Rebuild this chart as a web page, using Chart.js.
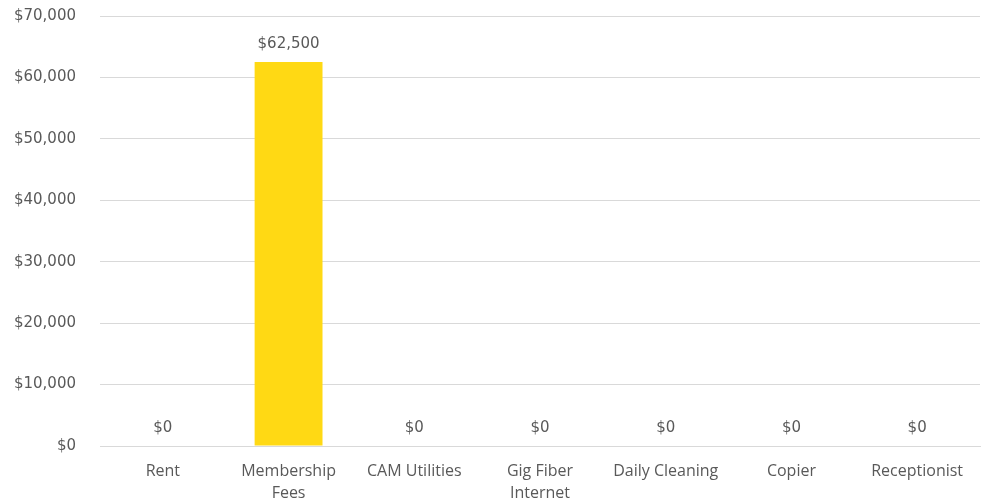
<!DOCTYPE html>
<html>
<head>
<meta charset="utf-8">
<script src="https://cdn.jsdelivr.net/npm/chart.js@4"></script>
<style>
  html, body { margin: 0; padding: 0; background: #fff; }
  .chart-wrapper { width: 983px; height: 502px; }
</style>
</head>
<body>
<div class="chart-wrapper"><canvas id="costChart"></canvas></div>
<script>
// 数据
const categories = ['Rent', ['Membership', 'Fees'], 'CAM Utilities', ['Gig Fiber', 'Internet'], 'Daily Cleaning', 'Copier', 'Receptionist'];
const amounts = [0, 62500, 0, 0, 0, 0, 0];

const money = v => '$' + v.toLocaleString('en-US');

// 柱顶数值标签
const valueLabels = {
  id: 'valueLabels',
  afterDatasetsDraw(chart) {
    const ctx = chart.ctx;
    const meta = chart.getDatasetMeta(0);
    ctx.save();
    ctx.font = '15px "DejaVu Sans"';
    ctx.fillStyle = '#595959';
    ctx.textAlign = 'center';
    ctx.textBaseline = 'middle';
    meta.data.forEach((bar, i) => {
      ctx.fillText(money(amounts[i]), bar.x, bar.y - 18);
    });
    ctx.restore();
  }
};

new Chart(document.getElementById('costChart'), {
  type: 'bar',
  data: {
    labels: categories,
    datasets: [{
      data: amounts,
      backgroundColor: '#FFD914',
      categoryPercentage: 1,
      barPercentage: 0.54
    }]
  },
  options: {
    responsive: true,
    maintainAspectRatio: false,
    animation: false,
    layout: { padding: { top: 16, right: 3, left: 0, bottom: 0 } },
    plugins: {
      legend: { display: false },
      tooltip: { enabled: false }
    },
    scales: {
      x: {
        grid: { display: false },
        border: { color: '#d9d9d9', width: 1 },
        ticks: {
          color: '#595959',
          font: { family: 'Open Sans', size: 16, lineHeight: 1.4 },
          padding: 6,
          maxRotation: 0,
          autoSkip: false
        },
        afterFit: scale => { scale.height = 56; }
      },
      y: {
        min: 0,
        max: 70000,
        grid: { color: '#d9d9d9', tickColor: 'transparent', tickLength: 24 },
        border: { display: false },
        ticks: {
          stepSize: 10000,
          color: '#595959',
          font: { family: 'DejaVu Sans', size: 15 },
          padding: 0,
          callback: value => money(value)
        },
        afterFit: scale => { scale.width = 100; }
      }
    }
  },
  plugins: [valueLabels]
});
</script>
</body>
</html>
